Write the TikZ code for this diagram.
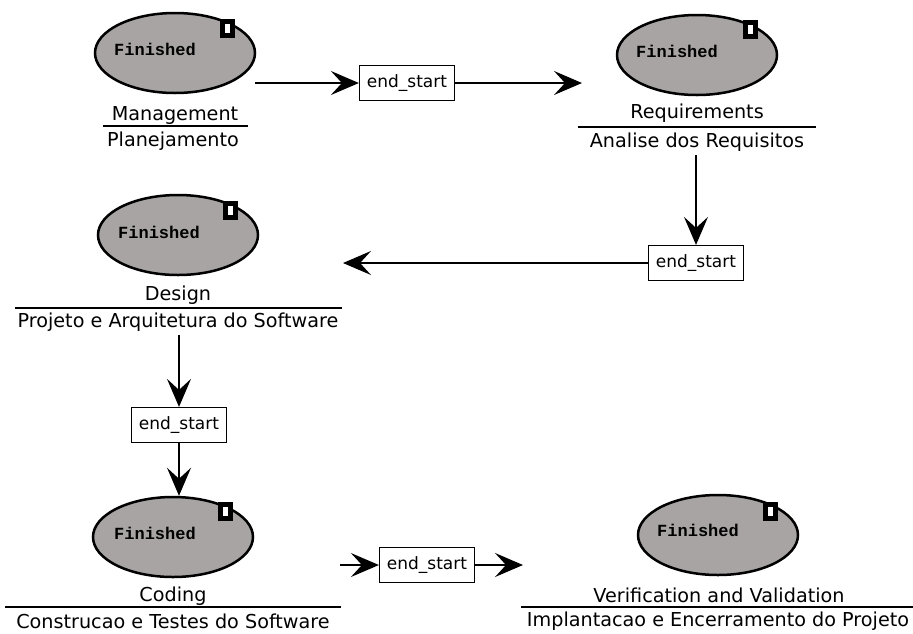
\documentclass[tikz,border=0pt]{standalone}
\usepackage{fontspec}
\setmainfont{DejaVu Sans}
\newfontfamily\monof{Liberation Mono}
\usetikzlibrary{arrows.meta,shapes.geometric}
\definecolor{ellgray}{RGB}{168,164,164}
\tikzset{
  stage/.style={ellipse, draw=black, fill=ellgray, line width=2.5pt, minimum width=160pt, minimum height=80pt, inner sep=0pt},
  fin/.style={font=\monof\bfseries\fontsize{17}{20}\selectfont, inner sep=0pt},
  dmark/.style={draw=black, fill=white, line width=5pt, minimum width=10pt, minimum height=14pt, inner sep=0pt},
  lbl/.style={font=\fontsize{19.2}{22}\selectfont, inner sep=0pt},
  sepline/.style={line width=1.3pt},
  esbox/.style={draw=black, fill=white, line width=1.2pt, minimum width=95pt, minimum height=35pt, inner sep=0pt, font=\fontsize{17}{20}\selectfont},
  conn/.style={line width=1.2pt, -{Stealth[length=28pt,width=24pt,inset=11pt]}}
}
\begin{document}
\begin{tikzpicture}[x=1pt,y=-1pt]
\useasboundingbox (0,0) rectangle (913,633);
% Management
\node[stage] (mgmt) at (175,53) {};
\node[dmark] (mgmtd) at (227,28) {};
\node[fin] (mgmtf) at (155,49) {Finished};
\node[lbl] (mgmtl) at (175,115) {Management};
\draw[sepline] (103,126) -- (248,126);
\node[lbl] (mgmtp) at (173,141) {Planejamento};
% Requirements
\node[stage] (req) at (697,55) {};
\node[dmark] (reqd) at (750,29) {};
\node[fin] (reqf) at (677,51) {Finished};
\node[lbl] (reql) at (697,113) {Requirements};
\draw[sepline] (578,127) -- (816,127);
\node[lbl] (reqp) at (697,142) {Analise dos Requisitos};
% Design
\node[stage] (des) at (178,235) {};
\node[dmark] (desd) at (230,210) {};
\node[fin] (desf) at (159,232) {Finished};
\node[lbl] (desl) at (178,295) {Design};
\draw[sepline] (15,308) -- (342,308);
\node[lbl] (desp) at (178,322) {Projeto e Arquitetura do Software};
% Coding
\node[stage] (cod) at (173,537) {};
\node[dmark] (codd) at (225,511) {};
\node[fin] (codf) at (155,533) {Finished};
\node[lbl] (codl) at (173,596) {Coding};
\draw[sepline] (5,607) -- (341,607);
\node[lbl] (codp) at (173,621) {Construcao e Testes do Software};
% V&V
\node[stage] (vv) at (718,535) {};
\node[dmark] (vvd) at (770,511) {};
\node[fin] (vvf) at (698,530) {Finished};
\node[lbl] (vvl) at (719,595) {Verification and Validation};
\draw[sepline] (521,607) -- (913,607);
\node[lbl] (vvp) at (718,621) {Implantacao e Encerramento do Projeto};
% end_start boxes
\node[esbox] (es1) at (407,83) {end\_start};
\node[esbox] (es2) at (696,263) {end\_start};
\node[esbox] (es3) at (179,425) {end\_start};
\node[esbox] (es4) at (427,565) {end\_start};
% free ends
\coordinate (a1) at (255,83);
\coordinate (b1) at (582,83);
\coordinate (a2) at (696,155);
\coordinate (b2) at (343,263);
\coordinate (a3) at (179,335);
\coordinate (a4) at (340,565);
\coordinate (b4) at (523,565);
% connectors
\draw[conn] (a1) -- (es1.west);
\draw[conn] (es1.east) -- (b1);
\draw[conn] (a2) -- (es2.north);
\draw[conn] (es2.west) -- (b2);
\draw[conn] (a3) -- (es3.north);
\draw[conn] (es3.south) -- (es3.south |- cod.north);
\draw[conn] (a4) -- (es4.west);
\draw[conn] (es4.east) -- (b4);
\end{tikzpicture}
\end{document}
